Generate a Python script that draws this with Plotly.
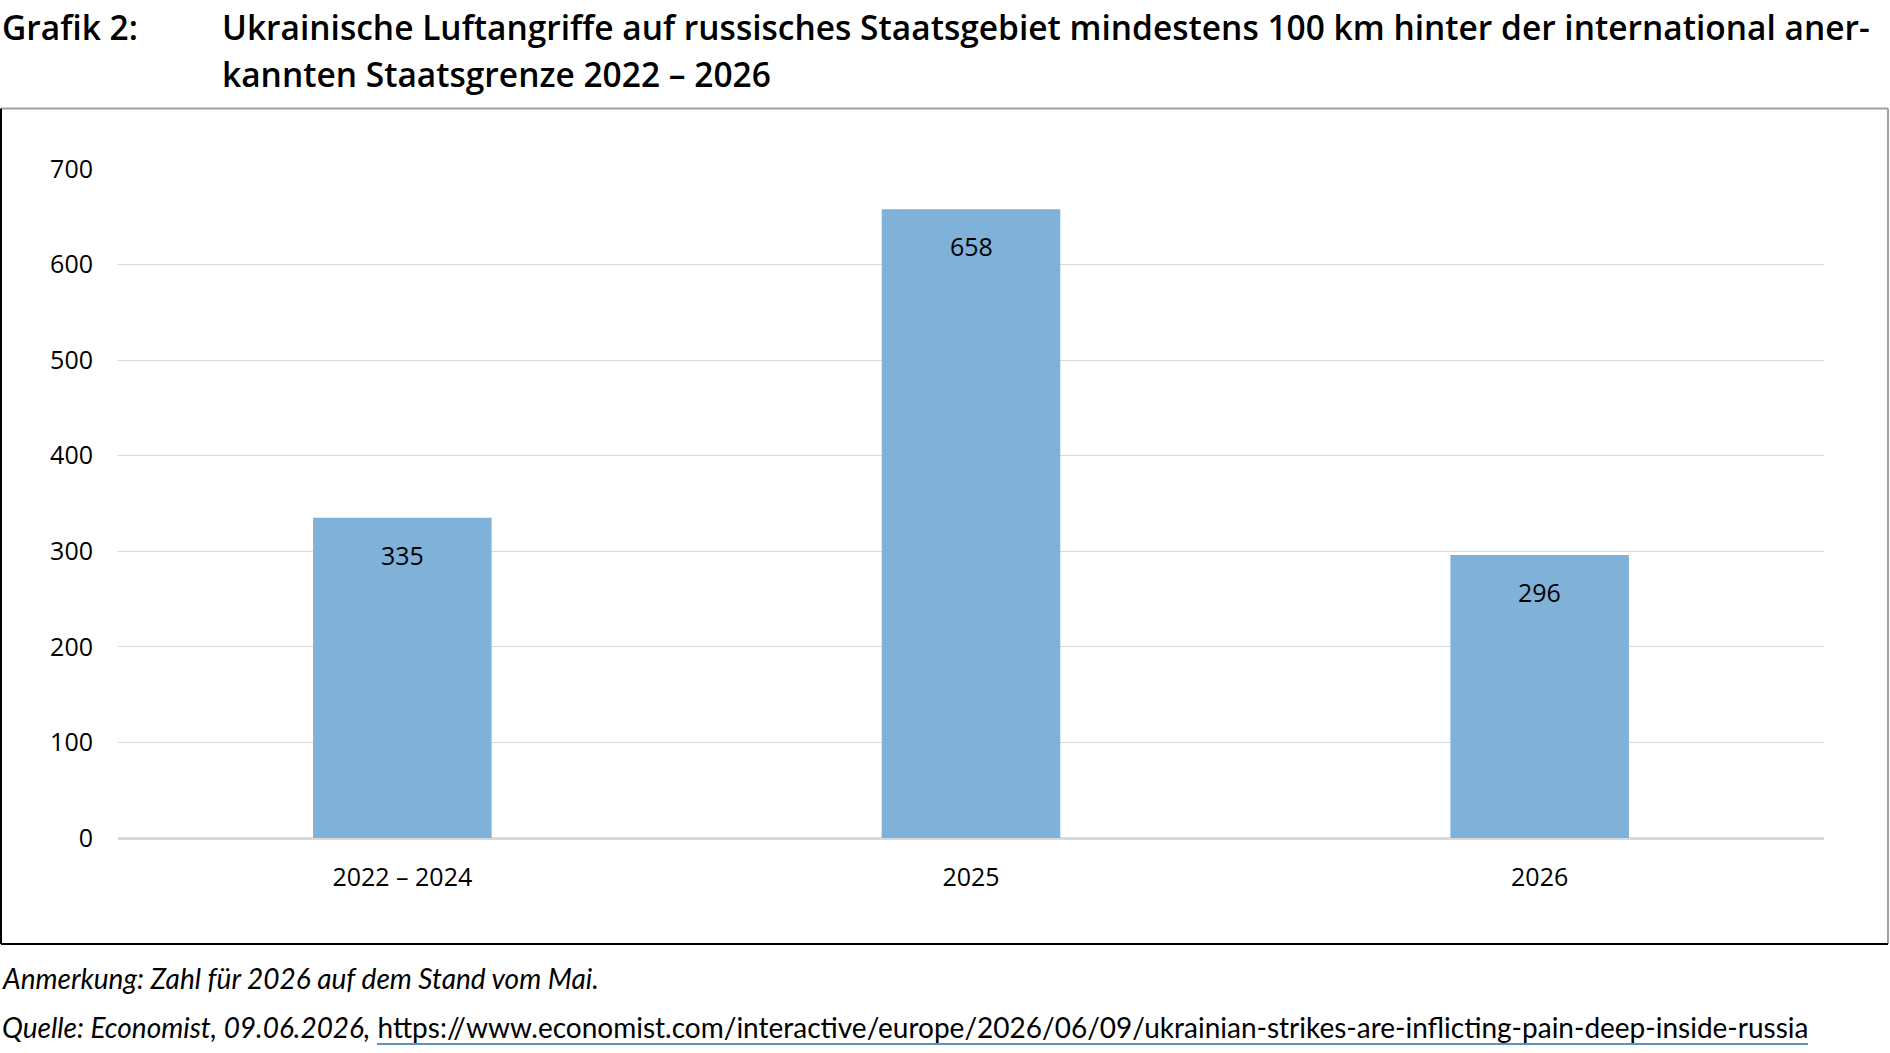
import plotly.graph_objects as go

categories = ["2022 – 2024", "2025", "2026"]
values = [335, 658, 296]
y_ticks = [0, 100, 200, 300, 400, 500, 600, 700]

W, H = 1890, 1053
def px(x): return x / W
def py(y): return 1 - y / H

bar_color = "#7FB1D9"
TXT = "Lato"
LBL = "Open Sans"

fig = go.Figure()
fig.add_trace(go.Bar(
    x=categories, y=values, marker=dict(color=bar_color, line=dict(width=0)),
    width=0.314, hoverinfo="skip",
))

# value labels (category axis annotations use the category index)
for i, v in enumerate(values):
    fig.add_annotation(x=i, y=v, xref="x", yref="y", text=str(v), showarrow=False,
                       yanchor="middle", yshift=-37,
                       font=dict(family=LBL, size=25, color="#000"))

fig.update_layout(
    width=W, height=H, margin=dict(l=0, r=0, t=0, b=0, pad=0, autoexpand=False),
    paper_bgcolor="white", plot_bgcolor="white", showlegend=False,
    xaxis=dict(type="category", categoryorder="array", categoryarray=categories,
               range=[-0.5, len(categories) - 0.5],
               domain=[px(118), px(1824)], showgrid=False, zeroline=False,
               showline=False, ticks="", ticklabelstandoff=22, automargin=False,
               tickfont=dict(family=LBL, size=25, color="#000")),
    yaxis=dict(domain=[py(838), py(169)], range=[0, 700], tickvals=y_ticks,
               showgrid=True, gridcolor="#D9D9D9", gridwidth=1,
               zeroline=True, zerolinecolor="#D9D9D9", zerolinewidth=3,
               showline=False, ticks="", ticklabelstandoff=24, automargin=False,
               tickfont=dict(family=LBL, size=25, color="#000")),
)

# frame
fx0, fx1, fy0, fy1 = px(1), px(1888), py(944), py(108.5)
fig.add_shape(type="line", xref="paper", yref="paper", x0=fx0, x1=fx1, y0=fy1, y1=fy1, line=dict(color="#A0A0A0", width=2))
fig.add_shape(type="line", xref="paper", yref="paper", x0=fx1, x1=fx1, y0=fy0, y1=fy1, line=dict(color="#A0A0A0", width=2))
fig.add_shape(type="line", xref="paper", yref="paper", x0=fx0, x1=fx0, y0=fy0, y1=fy1, line=dict(color="#000", width=2))
fig.add_shape(type="line", xref="paper", yref="paper", x0=fx0, x1=fx1, y0=fy0, y1=fy0, line=dict(color="#000", width=2))

# title
tfont = dict(family=LBL, size=33.5, color="#000", weight=600)
fig.add_annotation(xref="paper", yref="paper", x=px(0), y=py(26.5), xanchor="left", yanchor="middle",
                   text="Grafik 2:", showarrow=False, font=tfont)
fig.add_annotation(xref="paper", yref="paper", x=px(220), y=py(26.5), xanchor="left", yanchor="middle",
                   text="Ukrainische Luftangriffe auf russisches Staatsgebiet mindestens 100 km hinter der international aner-",
                   showarrow=False, font=tfont)
fig.add_annotation(xref="paper", yref="paper", x=px(220), y=py(73.5), xanchor="left", yanchor="middle",
                   text="kannten Staatsgrenze 2022 – 2026", showarrow=False, font=tfont)

# footer
ffont = dict(family=TXT, size=28, color="#000")
fig.add_annotation(xref="paper", yref="paper", x=px(0), y=py(977.5), xanchor="left", yanchor="middle",
                   text="<i>Anmerkung: Zahl für 2026 auf dem Stand vom Mai.</i>", showarrow=False, font=ffont)
fig.add_annotation(xref="paper", yref="paper", x=px(0), y=py(1027), xanchor="left", yanchor="middle",
                   text="<i>Quelle: Economist, 09.06.2026,</i> https://www.economist.com/interactive/europe/2026/06/09/ukrainian-strikes-are-inflicting-pain-deep-inside-russia",
                   showarrow=False, font=ffont)
fig.add_shape(type="line", xref="paper", yref="paper", x0=px(377), x1=px(1808), y0=py(1044), y1=py(1044),
              line=dict(color="#2E6DA4", width=1.5))

fig.write_html("out.html")
